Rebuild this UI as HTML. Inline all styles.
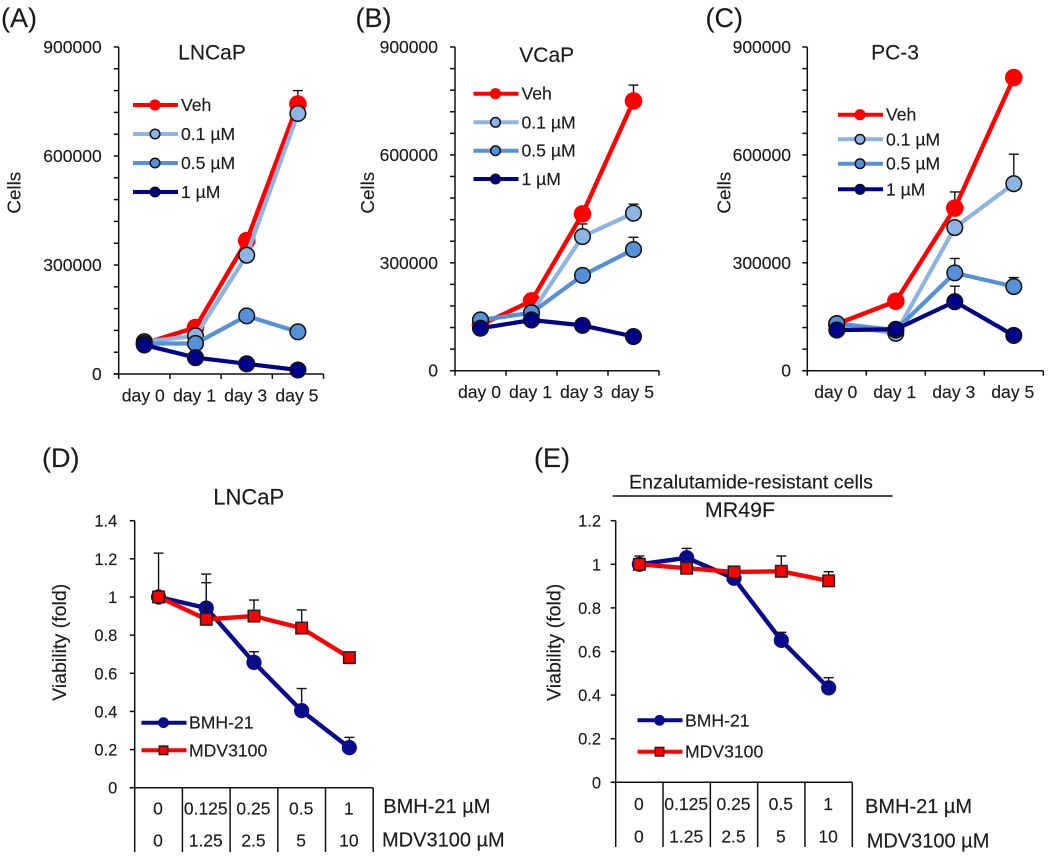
<!DOCTYPE html>
<html lang="en">
<head>
<meta charset="utf-8">
<title>Cell growth and viability panels</title>
<style>
html,body{margin:0;padding:0;background:#fff;}
svg{display:block;}
text{font-family:"Liberation Sans",sans-serif;fill:#1c1c1c;stroke:#1c1c1c;stroke-width:0.15px;}
</style>
</head>
<body>
<svg id="figure" xmlns="http://www.w3.org/2000/svg" width="1050" height="857" viewBox="0 0 1050 857"></svg>
<script>
/* ---------- data ---------- */
const dayCategories = ['day 0', 'day 1', 'day 3', 'day 5'];
const cellTickLabels = [0, 300000, 600000, 900000];
const fold14TickLabels = ['0', '0.2', '0.4', '0.6', '0.8', '1', '1.2', '1.4'];
const fold12TickLabels = ['0', '0.2', '0.4', '0.6', '0.8', '1', '1.2'];
const bmhDoses = ['0', '0.125', '0.25', '0.5', '1'];
const mdvDoses = ['0', '1.25', '2.5', '5', '10'];
const growthSeriesNames = ['Veh', '0.1 µM', '0.5 µM', '1 µM'];
const viabilitySeriesNames = ['BMH-21', 'MDV3100'];

const aVeh = [84000, 128000, 367000, 743000];
const aLow = [89000, 105000, 327000, 717000];
const aMid = [84000, 84000, 160000, 116000];
const aHigh = [80000, 45000, 28000, 11000];
const aVehErr = [null, null, null, 780000];
const aLowErr = [null, null, null, null];
const aMidErr = [null, null, null, null];
const aHighErr = [null, null, null, null];

const bVeh = [127000, 194000, 436000, 750000];
const bLow = [141000, 161000, 373000, 438000];
const bMid = [141000, 161000, 265000, 337000];
const bHigh = [118000, 141000, 126000, 95000];
const bVehErr = [null, null, null, 794000];
const bLowErr = [null, null, 408000, 463000];
const bMidErr = [null, null, null, 371000];
const bHighErr = [null, null, null, null];

const cVeh = [130000, 193000, 452000, 815000];
const cLow = [127000, 104000, 398000, 520000];
const cMid = [131000, 113000, 272000, 234000];
const cHigh = [113000, 115000, 192000, 98000];
const cVehErr = [null, null, 497000, null];
const cLowErr = [null, null, null, 602000];
const cMidErr = [null, null, 312000, 259000];
const cHighErr = [null, null, 235000, null];

const dBmh = [1.0, 0.942, 0.657, 0.404, 0.21];
const dMdv = [1.0, 0.883, 0.9, 0.837, 0.682];
const dBmhErr = [null, 1.12, 0.713, 0.52, 0.264];
const dMdvErr = [1.23, 1.075, 0.984, 0.932, null];

const eBmh = [1.0, 1.03, 0.936, 0.651, 0.433];
const eMdv = [1.0, 0.982, 0.965, 0.968, 0.924];
const eBmhErr = [null, 1.073, null, 0.688, 0.48];
const eMdvErr = [1.038, null, null, 1.038, 0.966];

/* ---------- helpers ---------- */
const svg = document.getElementById('figure');
const NS = 'http://www.w3.org/2000/svg';
const INK = '#111';
const COLORS = {veh: '#ff0000', low: '#8db4e2', mid: '#5590d8', high: '#00008b', bmh: '#0a0a8c', mdv: '#ff0000'};

function mk(tag, attrs, parent) {
  const n = document.createElementNS(NS, tag);
  for (const k in attrs) n.setAttribute(k, attrs[k]);
  parent.appendChild(n);
  return n;
}
function group(parent, name) {
  const g = mk('g', {}, parent);
  
  
  return g;
}
function seg(parent, name, x1, y1, x2, y2, color, width) {
  const n = mk('line', {x1: x1, y1: y1, x2: x2, y2: y2, stroke: color || INK, 'stroke-width': width || 1.5}, parent);
  
  
  return n;
}
function label(parent, name, str, x, y, size, anchor, rotate) {
  const n = mk('text', {x: x, y: y, 'font-size': size, 'text-anchor': anchor || 'start'}, parent);
  if (rotate) n.setAttribute('transform', 'rotate(-90 ' + x + ' ' + y + ')');
  n.textContent = str;
  
  
  return n;
}
function circle(parent, name, x, y, r, fill, outlined) {
  const n = mk('circle', {cx: x, cy: y, r: r, fill: fill}, parent);
  if (outlined) { n.setAttribute('stroke', INK); n.setAttribute('stroke-width', 1.5); }
  
  
  return n;
}
function square(parent, name, x, y, s, fill) {
  const n = mk('rect', {x: x - s / 2, y: y - s / 2, width: s, height: s, fill: fill, stroke: '#222', 'stroke-width': 1.5}, parent);
  
  
  return n;
}
function polyline(parent, name, pts, color, width) {
  const n = mk('polyline', {points: pts, fill: 'none', stroke: color, 'stroke-width': width, 'stroke-linejoin': 'round', 'stroke-linecap': 'round'}, parent);
  
  
  return n;
}
function scales(b, yMax, n) {
  return {
    y: function (v) { return b.y0 - (v / yMax) * (b.y0 - b.y1); },
    x: function (i) { return b.x0 + (b.x1 - b.x0) / n * (i + 0.5); }
  };
}
function drawSeries(g, key, vals, errs, s, color, width, kind, size) {
  const sg = group(g, 'series-' + key);
  const errG = group(sg, key + '-error-bars');
  errs.forEach(function (top, i) {
    if (top === null) return;
    const x = s.x(i);
    seg(errG, key + '-error-stem', x, s.y(vals[i]), x, s.y(top), INK, 1.4);
    seg(errG, key + '-error-cap', x - 5, s.y(top), x + 5, s.y(top), INK, 1.4);
  });
  polyline(sg, key + '-line', vals.map(function (v, i) { return s.x(i).toFixed(1) + ',' + s.y(v).toFixed(1); }).join(' '), color, width);
  vals.forEach(function (v, i) {
    if (kind === 'square') square(sg, key + '-point', s.x(i), s.y(v), size, color);
    else circle(sg, key + '-point', s.x(i), s.y(v), size, color, kind === 'outlined');
  });
}

/* ---------- growth panels A, B, C ---------- */
function growthPanel(p) {
  const g = group(svg, 'panel-' + p.id);
  const b = p.box;
  const s = scales(b, 900000, dayCategories.length);
  label(g, 'panel-letter', '(' + p.id.toUpperCase() + ')', p.letterX, 27, 27);
  label(g, 'chart-title', p.title, p.titleX, p.titleY, 21, 'middle');
  label(g, 'y-axis-title', 'Cells', p.yTitleX, 192.7, 18.8, 'middle', true);

  const axes = group(g, 'axes');
  seg(axes, 'y-axis-line', b.x0, b.y0 + 0.6, b.x0, b.y1);
  seg(axes, 'x-axis-line', b.x0 - 5, b.y0, b.x1, b.y0);
  for (let v = 0; v <= 900000; v += 60000) {
    seg(axes, 'y-tick', b.x0 - 5, s.y(v), b.x0, s.y(v));
  }
  cellTickLabels.forEach(function (v) {
    label(axes, 'y-tick-label', String(v), p.yLabelX, s.y(v) + 6, 17.5, 'end');
  });
  const bandW = (b.x1 - b.x0) / dayCategories.length;
  for (let i = 0; i <= dayCategories.length; i++) {
    seg(axes, 'x-tick', b.x0 + bandW * i, b.y0, b.x0 + bandW * i, b.y0 + 5);
  }
  dayCategories.forEach(function (c, i) {
    label(axes, 'x-tick-label', c, s.x(i) - 1, p.xLabelY, 17.6, 'middle');
  });

  const marks = group(g, 'series-group');
  drawSeries(marks, 'veh', p.veh, p.vehErr, s, COLORS.veh, 4.4, 'plain', 8.8);
  drawSeries(marks, 'low-dose', p.low, p.lowErr, s, COLORS.low, 4.2, 'outlined', 7.8);
  drawSeries(marks, 'mid-dose', p.mid, p.midErr, s, COLORS.mid, 4.2, 'outlined', 7.8);
  drawSeries(marks, 'high-dose', p.high, p.highErr, s, COLORS.high, 4.2, 'outlined', 7.8);

  const lg = group(g, 'legend');
  const swatch = [COLORS.veh, COLORS.low, COLORS.mid, COLORS.high];
  growthSeriesNames.forEach(function (n, i) {
    const e = group(lg, 'legend-entry');
    const y = p.legendYs[i];
    seg(e, 'legend-line', p.legendX, y, p.legendX + 45, y, swatch[i], 4);
    circle(e, 'legend-marker', p.legendX + 22, y, i === 0 ? 5.6 : 4.8, swatch[i], i !== 0);
    label(e, 'legend-label', n, p.legendX + 48, y + 6, 17.6);
  });
}

growthPanel({id: 'a', title: 'LNCaP', letterX: 1, titleX: 212, titleY: 59.5, yTitleX: 20.7, yLabelX: 101.7, xLabelY: 401.5,
  box: {x0: 118.7, x1: 323.5, y0: 374, y1: 47},
  veh: aVeh, low: aLow, mid: aMid, high: aHigh, vehErr: aVehErr, lowErr: aLowErr, midErr: aMidErr, highErr: aHighErr,
  legendX: 133, legendYs: [105, 134, 163, 192]});
growthPanel({id: 'b', title: 'VCaP', letterX: 355.5, titleX: 546.7, titleY: 62, yTitleX: 374, yLabelX: 438, xLabelY: 398,
  box: {x0: 455, x1: 659, y0: 370.7, y1: 47},
  veh: bVeh, low: bLow, mid: bMid, high: bHigh, vehErr: bVehErr, lowErr: bLowErr, midErr: bMidErr, highErr: bHighErr,
  legendX: 473.5, legendYs: [93.7, 122.3, 150.7, 179]});
growthPanel({id: 'c', title: 'PC-3', letterX: 705.5, titleX: 895, titleY: 59.5, yTitleX: 730.7, yLabelX: 791, xLabelY: 398,
  box: {x0: 807.3, x1: 1043.3, y0: 370.7, y1: 47},
  veh: cVeh, low: cLow, mid: cMid, high: cHigh, vehErr: cVehErr, lowErr: cLowErr, midErr: cMidErr, highErr: cHighErr,
  legendX: 838, legendYs: [114.7, 139.3, 163.7, 189.3]});

/* ---------- viability panels D, E ---------- */
function viabilityPanel(p) {
  const g = group(svg, 'panel-' + p.id);
  const b = p.box;
  const n = bmhDoses.length;
  const s = scales(b, p.yMax, n);
  label(g, 'panel-letter', '(' + p.id.toUpperCase() + ')', p.letterX, 467, 27);
  label(g, 'y-axis-title', 'Viability (fold)', p.yTitleX, 642.3, 19.6, 'middle', true);

  const axes = group(g, 'axes');
  seg(axes, 'y-axis-line', b.x0, b.y0, b.x0, b.y1);
  seg(axes, 'x-axis-line', b.x0 - 5, b.y0, b.x1, b.y0);
  p.ticks.forEach(function (t) {
    const y = s.y(parseFloat(t));
    seg(axes, 'y-tick', b.x0 - 5, y, b.x0, y);
    label(axes, 'y-tick-label', t, p.yLabelX, y + 6, 16.5, 'end');
  });

  const table = group(g, 'dose-table');
  const bandW = (b.x1 - b.x0) / n;
  for (let i = 0; i <= n; i++) {
    seg(table, 'table-divider', b.x0 + bandW * i, b.y0, b.x0 + bandW * i, p.tableBottom);
  }
  bmhDoses.forEach(function (d, i) {
    label(table, 'bmh-dose-value', d, s.x(i) - 0.5, p.row1Y, 17.5, 'middle');
  });
  mdvDoses.forEach(function (d, i) {
    label(table, 'mdv-dose-value', d, s.x(i) - 0.5, p.row2Y, 17.5, 'middle');
  });
  label(table, 'bmh-row-label', 'BMH-21 µM', p.rowLabel1X, 813, 20);
  label(table, 'mdv-row-label', 'MDV3100 µM', p.rowLabel2X, p.rowLabel2Y, 20);

  const marks = group(g, 'series-group');
  drawSeries(marks, 'bmh-21', p.bmh, p.bmhErr, s, COLORS.bmh, 4.4, 'plain', 7.6);
  drawSeries(marks, 'mdv3100', p.mdv, p.mdvErr, s, COLORS.mdv, 4.4, 'square', 11.5);

  const lg = group(g, 'legend');
  viabilitySeriesNames.forEach(function (name, i) {
    const e = group(lg, 'legend-entry');
    const y = p.legendYs[i];
    const c = i === 0 ? COLORS.bmh : COLORS.mdv;
    seg(e, 'legend-line', p.legendX, y, p.legendX + 45, y, c, 4);
    if (i === 0) circle(e, 'legend-marker', p.legendX + 22, y, 5.4, c, false);
    else square(e, 'legend-marker', p.legendX + 22, y, 8.5, c);
    label(e, 'legend-label', name, p.legendX + 47.5, y + 6, 17.6);
  });
  return g;
}

const panelD = viabilityPanel({id: 'd', letterX: 42, yTitleX: 66, yLabelX: 117.3, yMax: 1.4, ticks: fold14TickLabels,
  box: {x0: 134.7, x1: 373.2, y0: 787.7, y1: 520.7}, tableBottom: 852, row1Y: 814.3, row2Y: 846.7,
  rowLabel1X: 383.3, rowLabel2X: 382, rowLabel2Y: 846.7,
  bmh: dBmh, mdv: dMdv, bmhErr: dBmhErr, mdvErr: dMdvErr, legendX: 141.5, legendYs: [722.7, 750.3]});
label(panelD, 'chart-title', 'LNCaP', 248.7, 504.7, 22, 'middle');

const panelE = viabilityPanel({id: 'e', letterX: 534, yTitleX: 560.7, yLabelX: 601, yMax: 1.2, ticks: fold12TickLabels,
  box: {x0: 615.7, x1: 852.3, y0: 782.3, y1: 520.7}, tableBottom: 847, row1Y: 810, row2Y: 842.3,
  rowLabel1X: 865, rowLabel2X: 866.7, rowLabel2Y: 847.7,
  bmh: eBmh, mdv: eMdv, bmhErr: eBmhErr, mdvErr: eMdvErr, legendX: 637.5, legendYs: [720.3, 751.7]});
label(panelE, 'group-heading', 'Enzalutamide-resistant cells', 751, 488.7, 19.6, 'middle');
seg(panelE, 'group-heading-rule', 612.7, 496, 892.7, 496, INK, 1.6);
label(panelE, 'chart-title', 'MR49F', 740, 517, 21.4, 'middle');
</script>
</body>
</html>
